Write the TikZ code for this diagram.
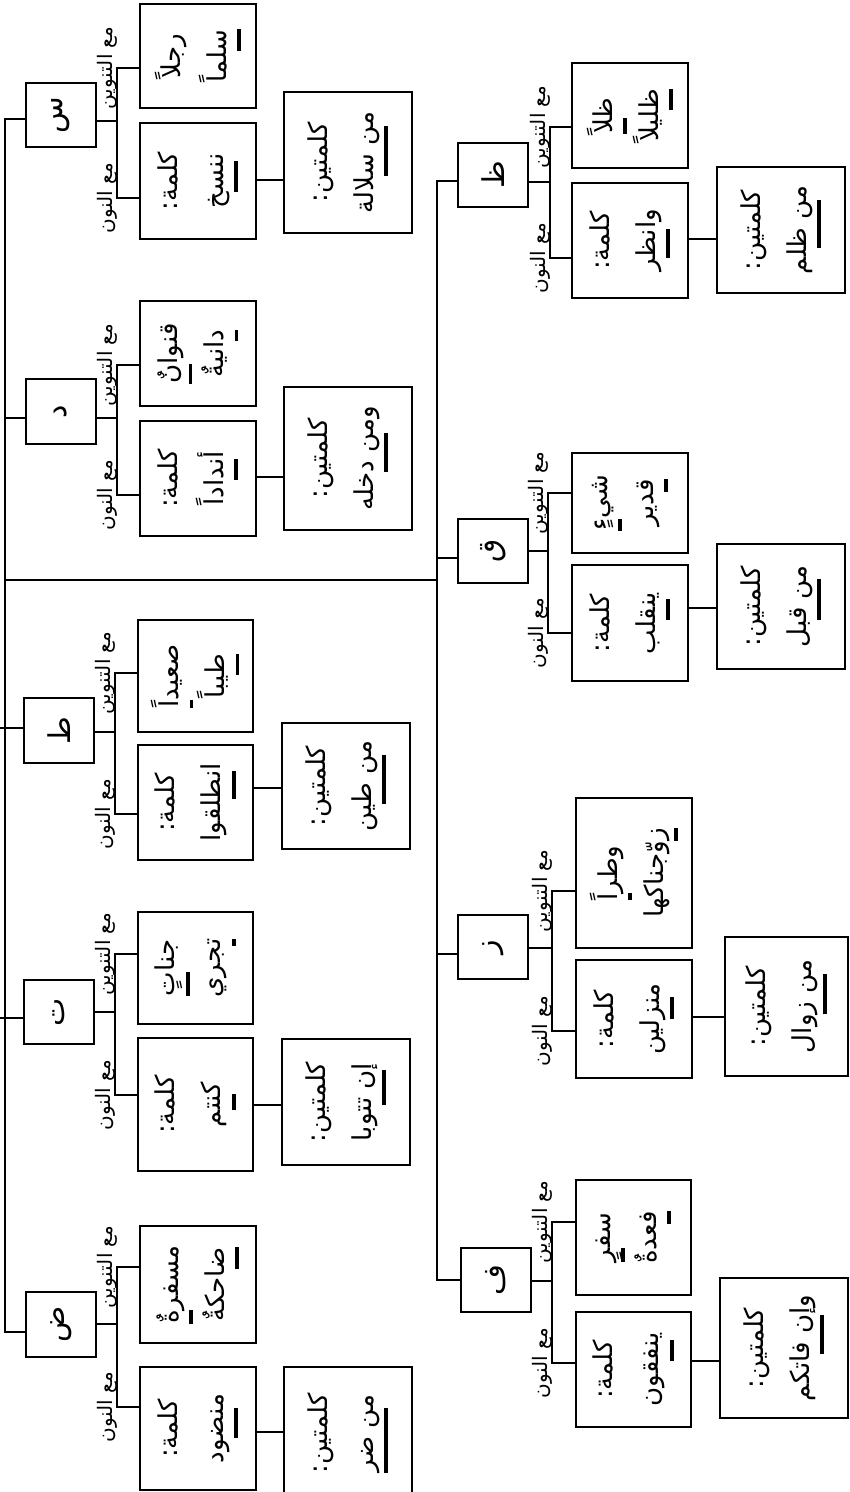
\documentclass[tikz,border=0pt]{standalone}
\usepackage{fontspec}
\usepackage{graphicx}
\TeXXeTstate=1
\newfontfamily\ar[Script=Arabic]{DejaVu Sans}
\newcommand\zj{^^^^200d}
\newcommand\mk[1]{\hbox{\setbox0=\hbox{\beginR#1\endR}\rlap{\vrule width\wd0 height -0.42em depth 0.57em}\box0}}
\newcommand\two[2]{\rotatebox{90}{\vbox{\ar\fontsize{26}{26}\selectfont\baselineskip=46pt\halign{\hfil##\hfil\cr\beginR#1\endR\cr\beginR#2\endR\cr}}}}
\newcommand\one[1]{\rotatebox{90}{\ar\fontsize{30}{30}\selectfont #1}}
\newcommand\B[6]{\node[bx, minimum width={(#3-#2)*1pt}, minimum height={(#5-#4)*1pt}] (#1) at ({(#2+#3)/2},{(#4+#5)/2}) {#6};}
\newcommand\conn[8]{%
 \coordinate (#1T) at (#2,#3);
 \coordinate (#1F) at (#5,#4);
 \coordinate (#1Ft) at (#5,#6);
 \coordinate (#1Fb) at (#5,#7);
 \coordinate (#1C) at (0,#8);
 \draw[ln] (#1T) -- (#1T -| #1L.west);
 \draw[ln] (#1L.east |- #1F) -- (#1F);
 \draw[ln] (#1Ft) -- (#1Fb);
 \draw[ln] (#1Ft) -- (#1Ft -| #1W1.west);
 \draw[ln] (#1Fb) -- (#1Fb -| #1W2.west);
 \draw[ln] (#1W2.east |- #1C) -- (#1K.west |- #1C);
 \node[lab] (#1lt) at (#5-10,#6) {\beginR مع التنوين\endR};
 \node[lab] (#1ln) at (#5-10,#7) {\beginR مع النون\endR};
}
\begin{document}
\begin{tikzpicture}[x=1pt,y=-1pt,
 bx/.style={draw, line width=1.9pt, inner sep=0pt, outer sep=0pt},
 ln/.style={line width=1.9pt, line cap=rect},
 lab/.style={inner sep=0pt, rotate=90, font=\ar\fontsize{20}{20}\selectfont}]
\clip (0,0) rectangle (850,1492);
\fill[white] (0,0) rectangle (850,1492);
% ---- left column ----
\B{sL}{26}{96}{83}{147}{\one{س}}
\B{sW1}{140}{256}{4}{108}{\two{رجلاً}{\mk{س\zj}\zj لماً}}
\B{sW2}{140}{256}{123}{239}{\two{كلمة\kern0pt:}{ن\zj\mk{\zj نس\zj}\zj خ}}
\B{sK}{284}{412}{92}{233}{\two{كلمتين\kern0pt:}{م\zj\mk{\zj ن س\zj}\zj لالة}}
\conn{s}{5}{119}{121}{117}{68}{198}{180}
\B{dL}{26}{96}{379}{444}{\one{د}}
\B{dW1}{140}{256}{301}{406}{\two{قنوا\mk{نٌ}}{\mk{د}انيةٌ}}
\B{dW2}{140}{256}{421}{536}{\two{كلمة\kern0pt:}{أ\mk{ند}اداً}}
\B{dK}{284}{412}{387}{530}{\two{كلمتين\kern0pt:}{وم\zj\mk{\zj ن د}خله}}
\conn{d}{5}{418}{418}{117}{365}{495}{477}
\B{tL}{24}{94}{698}{763}{\one{ط}}
\B{tW1}{138}{253}{620}{732}{\two{صعيد\mk{اً}}{\mk{ط\zj}\zj يباً}}
\B{tW2}{138}{253}{745}{860}{\two{كلمة\kern0pt:}{ا\mk{نط\zj}\zj لقوا}}
\B{tK}{282}{410}{723}{849}{\two{كلمتين\kern0pt:}{م\zj\mk{\zj ن ط\zj}\zj ين}}
\conn{t}{0}{728}{732}{115}{673}{814}{788}
\B{taL}{24}{94}{980}{1044}{\one{ت}}
\B{taW1}{138}{253}{912}{1024}{\two{جنا\mk{تٍ}}{\mk{ت\zj}\zj جري}}
\B{taW2}{138}{253}{1038}{1171}{\two{كلمة\kern0pt:}{ك\zj\mk{\zj نت\zj}\zj م}}
\B{taK}{282}{410}{1039}{1165}{\two{كلمتين\kern0pt:}{إ\mk{ن ت\zj}\zj توبا}}
\conn{ta}{0}{1018}{1012}{115}{954}{1095}{1105}
\B{zL}{26}{96}{1292}{1357}{\one{ض}}
\B{zW1}{140}{256}{1226}{1343}{\two{مسفر\mk{ةٌ}}{\mk{ض\zj}\zj احكةٌ}}
\B{zW2}{140}{256}{1367}{1490}{\two{كلمة\kern0pt:}{م\zj\mk{\zj نض\zj}\zj ود}}
\B{zK}{284}{412}{1367}{1500}{\two{كلمتين\kern0pt:}{م\zj\mk{\zj ن ضر}}}
\conn{z}{5}{1332}{1324}{117}{1267}{1407}{1432}
% ---- right column ----
\B{aL}{458}{528}{143}{207}{\one{ظ}}
\B{aW1}{572}{688}{63}{168}{\two{ظ\zj\mk{\zj لاً}}{\mk{ظ\zj}\zj ليلاً}}
\B{aW2}{572}{688}{183}{298}{\two{كلمة\kern0pt:}{وا\mk{نظ\zj}\zj ر}}
\B{aK}{717}{845}{167}{293}{\two{كلمتين\kern0pt:}{م\zj\mk{\zj ن ظ\zj}\zj لم}}
\conn{a}{437}{181}{182}{550}{127}{258}{239}
\B{qL}{458}{528}{519}{583}{\one{ق}}
\B{qW1}{572}{688}{453}{553}{\two{شي\mk{ءٍ}}{\mk{ق\zj}\zj دير}}
\B{qW2}{572}{688}{565}{681}{\two{كلمة\kern0pt:}{ي\zj\mk{\zj نق\zj}\zj لب}}
\B{qK}{717}{845}{544}{669}{\two{كلمتين\kern0pt:}{م\zj\mk{\zj ن ق\zj}\zj بل}}
\conn{q}{437}{558}{551}{548}{493}{633}{608}
\B{rL}{458}{528}{915}{979}{\one{ز}}
\B{rW1}{576}{692}{798}{948}{\two{وطر\mk{اً}}{\mk{ز}وّجناكها}}
\B{rW2}{576}{692}{960}{1078}{\two{كلمة\kern0pt:}{م\zj\mk{\zj نز}لين}}
\B{rK}{725}{848}{937}{1076}{\two{كلمتين\kern0pt:}{م\zj\mk{\zj ن ز}وال}}
\conn{r}{437}{954}{948}{552}{891}{1031}{1017}
\B{fL}{461}{531}{1248}{1312}{\one{ف}}
\B{fW1}{576}{691}{1180}{1295}{\two{سف\zj\mk{\zj رٍ}}{\mk{ف\zj}\zj عدةٌ}}
\B{fW2}{576}{691}{1312}{1427}{\two{كلمة\kern0pt:}{ي\zj\mk{\zj نف\zj}\zj قون}}
\B{fK}{720}{848}{1278}{1418}{\two{كلمتين\kern0pt:}{وإ\mk{ن ف\zj}\zj اتكم}}
\conn{f}{437}{1280}{1281}{552}{1222}{1363}{1361}
% ---- trunks ----
\coordinate (hL) at (5,580);
\coordinate (hR) at (437,580);
\draw[ln] (sT) -- (zT);
\draw[ln] (aT) -- (fT);
\draw[ln] (hL) -- (hR);
\end{tikzpicture}
\end{document}
